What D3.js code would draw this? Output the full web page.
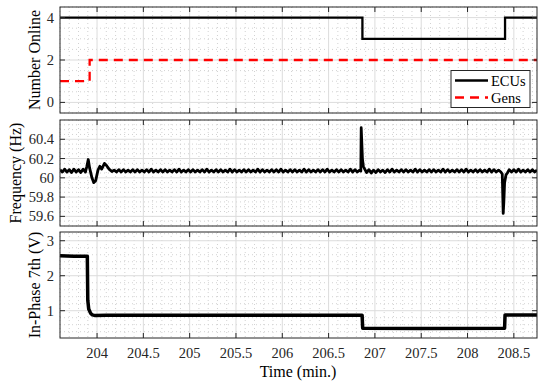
<!DOCTYPE html>
<html>
<head>
<meta charset="utf-8">
<script src="https://cdn.jsdelivr.net/npm/d3@7"></script>
<style>
    body { margin: 0; background: #fff; }
    svg { display: block; font-family: "Liberation Serif", "Times New Roman", serif; }
</style>
</head>
<body>
<div id="chart"></div>
<script>
// Ticks do eixo x (minutos)
const timeTicks = [204, 204.5, 205, 205.5, 206, 206.5, 207, 207.5, 208, 208.5];

// Número de ECUs / geradores online (degraus)
const ecuSteps = [[203.6, 4], [206.865, 3], [208.405, 4], [208.75, 4]];
const genSteps = [[203.6, 1], [203.92, 2], [208.75, 2]];

// Frequência (Hz) - leitura aproximada do sinal com ruído
const freqTrace = [
    [203.60, 60.085], [203.625, 60.06], [203.65, 60.09], [203.675, 60.06], [203.70, 60.085],
    [203.725, 60.055], [203.75, 60.09], [203.775, 60.06], [203.80, 60.085], [203.825, 60.055],
    [203.85, 60.09], [203.875, 60.06], [203.89, 60.12], [203.905, 60.19], [203.92, 60.10],
    [203.945, 60.0], [203.965, 59.95], [203.985, 59.97], [204.01, 60.08], [204.03, 60.12],
    [204.05, 60.09], [204.08, 60.15], [204.10, 60.13], [204.13, 60.09], [204.16, 60.065],
    [204.185, 60.08], [204.21, 60.06], [204.235, 60.085], [204.26, 60.06], [204.285, 60.085],
    [204.31, 60.06], [204.335, 60.08], [204.36, 60.06], [204.385, 60.085], [204.41, 60.06],
    [204.435, 60.085], [204.46, 60.06], [204.485, 60.08], [204.51, 60.06], [204.535, 60.085],
    [204.56, 60.06], [204.585, 60.09], [204.61, 60.06], [204.635, 60.08], [204.66, 60.06],
    [204.685, 60.085], [204.71, 60.06], [204.735, 60.085], [204.76, 60.06], [204.785, 60.08],
    [204.81, 60.06], [204.835, 60.085], [204.86, 60.06], [204.885, 60.09], [204.91, 60.06],
    [204.935, 60.08], [204.96, 60.06], [204.985, 60.085], [205.01, 60.06], [205.035, 60.085],
    [205.06, 60.06], [205.085, 60.08], [205.11, 60.06], [205.135, 60.085], [205.16, 60.06],
    [205.185, 60.09], [205.21, 60.06], [205.235, 60.08], [205.26, 60.06], [205.285, 60.085],
    [205.31, 60.06], [205.335, 60.085], [205.36, 60.06], [205.385, 60.08], [205.41, 60.06],
    [205.435, 60.09], [205.46, 60.06], [205.485, 60.085], [205.51, 60.06], [205.535, 60.08],
    [205.56, 60.06], [205.585, 60.085], [205.61, 60.06], [205.635, 60.085], [205.66, 60.06],
    [205.685, 60.08], [205.71, 60.06], [205.735, 60.09], [205.76, 60.06], [205.785, 60.085],
    [205.81, 60.06], [205.835, 60.08], [205.86, 60.06], [205.885, 60.085], [205.91, 60.06],
    [205.935, 60.085], [205.96, 60.06], [205.985, 60.09], [206.01, 60.06], [206.035, 60.08],
    [206.06, 60.06], [206.085, 60.085], [206.11, 60.06], [206.135, 60.085], [206.16, 60.06],
    [206.185, 60.08], [206.21, 60.06], [206.235, 60.09], [206.26, 60.06], [206.285, 60.085],
    [206.31, 60.06], [206.335, 60.08], [206.36, 60.06], [206.385, 60.085], [206.41, 60.06],
    [206.435, 60.085], [206.46, 60.06], [206.485, 60.09], [206.51, 60.06], [206.535, 60.08],
    [206.56, 60.06], [206.585, 60.085], [206.61, 60.06], [206.635, 60.085], [206.66, 60.06],
    [206.685, 60.08], [206.71, 60.06], [206.735, 60.09], [206.76, 60.06], [206.785, 60.085],
    [206.81, 60.06], [206.835, 60.08], [206.848, 60.07], [206.852, 60.52], [206.865, 60.2],
    [206.875, 60.12], [206.89, 60.09], [206.91, 60.055], [206.935, 60.085], [206.96, 60.05],
    [206.985, 60.08], [207.01, 60.055], [207.035, 60.085], [207.06, 60.06], [207.085, 60.08],
    [207.11, 60.055], [207.135, 60.085], [207.16, 60.06], [207.185, 60.09], [207.21, 60.06],
    [207.235, 60.08], [207.26, 60.06], [207.285, 60.085], [207.31, 60.06], [207.335, 60.085],
    [207.36, 60.06], [207.385, 60.08], [207.41, 60.06], [207.435, 60.09], [207.46, 60.06],
    [207.485, 60.085], [207.51, 60.06], [207.535, 60.08], [207.56, 60.06], [207.585, 60.085],
    [207.61, 60.06], [207.635, 60.085], [207.66, 60.06], [207.685, 60.08], [207.71, 60.06],
    [207.735, 60.09], [207.76, 60.06], [207.785, 60.085], [207.81, 60.06], [207.835, 60.08],
    [207.86, 60.06], [207.885, 60.085], [207.91, 60.06], [207.935, 60.085], [207.96, 60.06],
    [207.985, 60.09], [208.01, 60.06], [208.035, 60.08], [208.06, 60.06], [208.085, 60.085],
    [208.11, 60.06], [208.135, 60.085], [208.16, 60.06], [208.185, 60.08], [208.21, 60.06],
    [208.235, 60.09], [208.26, 60.06], [208.285, 60.085], [208.31, 60.06], [208.335, 60.08],
    [208.36, 60.06], [208.375, 60.04], [208.385, 59.63], [208.392, 59.75], [208.40, 59.95],
    [208.415, 60.03], [208.43, 60.05], [208.45, 60.085], [208.475, 60.06], [208.50, 60.085],
    [208.525, 60.06], [208.55, 60.09], [208.575, 60.06], [208.60, 60.08], [208.625, 60.06],
    [208.65, 60.085], [208.675, 60.06], [208.70, 60.085], [208.725, 60.06], [208.75, 60.08]
];

// Componente em fase do 7º harmônico (V)
const phaseTrace = [
    [203.60, 2.57], [203.75, 2.56], [203.895, 2.56], [203.90, 1.3], [203.91, 1.05],
    [203.93, 0.93], [203.95, 0.88], [203.98, 0.86], [204.10, 0.87], [205.50, 0.87],
    [206.862, 0.87], [206.868, 0.5], [207.50, 0.495], [208.40, 0.5], [208.405, 0.88],
    [208.75, 0.88]
];

// Configuração dos painéis
const width = 538, height = 384;
const left = 60, right = 537;
const panels = [
    { top: 7,   domain: [-0.5, 4.5],   ticks: [0, 2, 4], minorCount: 10, label: "Number Online", labelX: 40 },
    { top: 120, domain: [59.5, 60.6],  ticks: [59.6, 59.8, 60, 60.2, 60.4], minorCount: 22, label: "Frequency (Hz)", labelX: 21 },
    { top: 232, domain: [0.22, 3.25],  ticks: [1, 2, 3], minorCount: 15, label: "In-Phase 7th (V)", labelX: 40 }
];
const panelH = 106;

const svg = d3.select("#chart").append("svg")
    .attr("width", width)
    .attr("height", height);

const x = d3.scaleLinear().domain([203.6, 208.75]).range([left, right]);
const fmt = d3.format("~g");

panels.forEach((p, i) => {
    p.y = d3.scaleLinear().domain(p.domain).range([p.top + panelH, p.top]);
    const g = svg.append("g");

    // Grade menor (pontilhada)
    const minorX = x.ticks(50).filter(t => !timeTicks.some(m => Math.abs(m - t) < 1e-6));
    const minorY = p.y.ticks(p.minorCount).filter(t => !p.ticks.some(m => Math.abs(m - t) < 1e-6));
    g.selectAll(".mx").data(minorX).enter().append("line")
        .attr("x1", d => x(d)).attr("x2", d => x(d))
        .attr("y1", p.top).attr("y2", p.top + panelH)
        .attr("stroke", "#d2d2d2").attr("stroke-width", 1).attr("stroke-dasharray", "1,3");
    g.selectAll(".my").data(minorY).enter().append("line")
        .attr("x1", left).attr("x2", right)
        .attr("y1", d => p.y(d)).attr("y2", d => p.y(d))
        .attr("stroke", "#d2d2d2").attr("stroke-width", 1).attr("stroke-dasharray", "1,3");

    // Grade principal
    g.selectAll(".gx").data(timeTicks).enter().append("line")
        .attr("x1", d => x(d)).attr("x2", d => x(d))
        .attr("y1", p.top).attr("y2", p.top + panelH)
        .attr("stroke", "#dcdcdc").attr("stroke-width", 1);
    g.selectAll(".gy").data(p.ticks).enter().append("line")
        .attr("x1", left).attr("x2", right)
        .attr("y1", d => p.y(d)).attr("y2", d => p.y(d))
        .attr("stroke", "#dcdcdc").attr("stroke-width", 1);

    // Área de recorte
    svg.append("clipPath").attr("id", "clip" + i)
        .append("rect").attr("x", left).attr("y", p.top).attr("width", right - left).attr("height", panelH);

    p.g = g;
    p.plot = svg.append("g").attr("clip-path", `url(#clip${i})`);
});

// Painel 1: degraus
const step = (ys) => d3.line().x(d => x(d[0])).y(d => ys(d[1])).curve(d3.curveStepAfter);
panels[0].plot.append("path")
    .datum(genSteps)
    .attr("fill", "none").attr("stroke", "#ff0000").attr("stroke-width", 2.3)
    .attr("stroke-dasharray", "9,6")
    .attr("d", step(panels[0].y));
panels[0].plot.append("path")
    .datum(ecuSteps)
    .attr("fill", "none").attr("stroke", "#000").attr("stroke-width", 2.3)
    .attr("d", step(panels[0].y));

// Painel 2: frequência
panels[1].plot.append("path")
    .datum(freqTrace)
    .attr("fill", "none").attr("stroke", "#000").attr("stroke-width", 2.8)
    .attr("stroke-linejoin", "round")
    .attr("d", d3.line().x(d => x(d[0])).y(d => panels[1].y(d[1])));

// Painel 3: 7º harmônico
panels[2].plot.append("path")
    .datum(phaseTrace)
    .attr("fill", "none").attr("stroke", "#000").attr("stroke-width", 3.5)
    .attr("stroke-linejoin", "round")
    .attr("d", d3.line().x(d => x(d[0])).y(d => panels[2].y(d[1])));

// Molduras, ticks e rótulos
panels.forEach((p, i) => {
    const g = svg.append("g");
    const bottom = p.top + panelH;
    g.append("rect")
        .attr("x", left).attr("y", p.top).attr("width", right - left).attr("height", panelH)
        .attr("fill", "none").attr("stroke", "#262626").attr("stroke-width", 1);

    // ticks internos em x (topo e base)
    timeTicks.forEach(t => {
        g.append("line").attr("x1", x(t)).attr("x2", x(t)).attr("y1", p.top).attr("y2", p.top + 5)
            .attr("stroke", "#262626");
        g.append("line").attr("x1", x(t)).attr("x2", x(t)).attr("y1", bottom).attr("y2", bottom - 5)
            .attr("stroke", "#262626");
    });
    // ticks internos em y (esquerda e direita)
    p.ticks.forEach(t => {
        g.append("line").attr("x1", left).attr("x2", left + 5).attr("y1", p.y(t)).attr("y2", p.y(t))
            .attr("stroke", "#262626");
        g.append("line").attr("x1", right).attr("x2", right - 5).attr("y1", p.y(t)).attr("y2", p.y(t))
            .attr("stroke", "#262626");
    });

    g.selectAll(".yl").data(p.ticks).enter().append("text")
        .attr("x", 54).attr("y", d => p.y(d))
        .attr("dy", "0.35em")
        .attr("text-anchor", "end")
        .attr("font-size", 14.5)
        .attr("fill", "#262626")
        .text(d => fmt(d));

    g.append("text")
        .attr("transform", `translate(${p.labelX},${p.top + panelH / 2}) rotate(-90)`)
        .attr("text-anchor", "middle")
        .attr("font-size", 16)
        .attr("fill", "#000")
        .text(p.label);
});

// Rótulos do eixo x (apenas no painel de baixo)
svg.append("g").selectAll("text").data(timeTicks).enter().append("text")
    .attr("x", d => x(d)).attr("y", 358)
    .attr("text-anchor", "middle")
    .attr("font-size", 14.5)
    .attr("fill", "#262626")
    .text(d => fmt(d));

svg.append("text")
    .attr("x", 298).attr("y", 377)
    .attr("text-anchor", "middle")
    .attr("font-size", 16)
    .text("Time (min.)");

// Legenda
const legend = svg.append("g");
legend.append("rect")
    .attr("x", 451).attr("y", 70.5).attr("width", 79).attr("height", 37)
    .attr("fill", "#fff").attr("stroke", "#262626").attr("stroke-width", 1);
const legendItems = [
    { name: "ECUs", color: "#000", dash: null, y: 80.5 },
    { name: "Gens", color: "#ff0000", dash: "9,6", y: 97.5 }
];
legendItems.forEach(d => {
    legend.append("line")
        .attr("x1", 455).attr("x2", 488).attr("y1", d.y).attr("y2", d.y)
        .attr("stroke", d.color).attr("stroke-width", 2.3)
        .attr("stroke-dasharray", d.dash);
    legend.append("text")
        .attr("x", 491).attr("y", d.y).attr("dy", "0.35em")
        .attr("font-size", 14.5)
        .text(d.name);
});
</script>
</body>
</html>
